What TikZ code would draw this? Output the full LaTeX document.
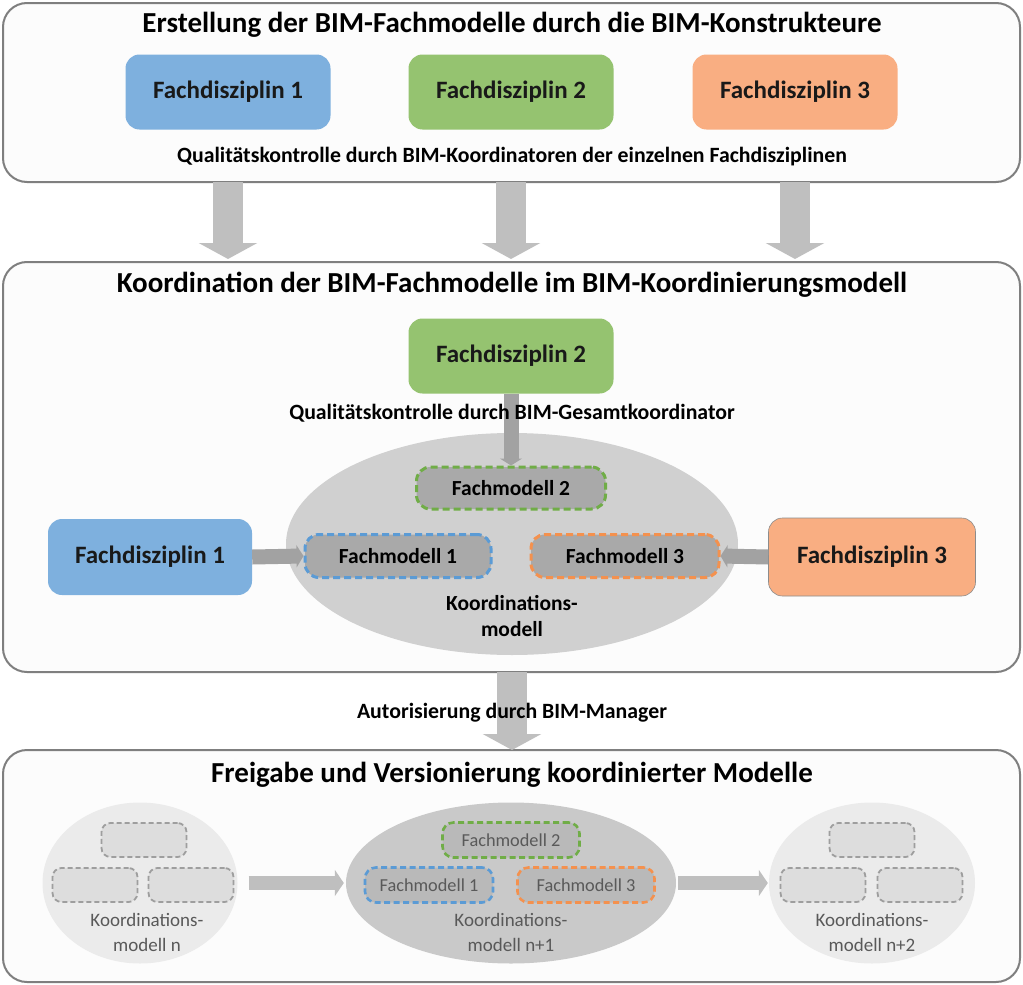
\documentclass[tikz,border=0pt]{standalone}
\usepackage{fontspec}
\setmainfont{Carlito}
\usetikzlibrary{arrows.meta,shapes.geometric}
\definecolor{panelborder}{HTML}{7F7F7F}
\definecolor{panelfill}{HTML}{FCFCFC}
\definecolor{fdblue}{HTML}{7EB0DE}
\definecolor{fdgreen}{HTML}{95C370}
\definecolor{fdorange}{HTML}{F9AE82}
\definecolor{arrowgray}{HTML}{BFBFBF}
\definecolor{ellgray}{HTML}{D0D0D0}
\definecolor{fmgray}{HTML}{A9A9A9}
\definecolor{dblue}{HTML}{5B9BD5}
\definecolor{dgreen}{HTML}{70AD47}
\definecolor{dorange}{HTML}{F4914E}
\definecolor{lightell}{HTML}{EBEBEB}
\definecolor{lightbox}{HTML}{DDDDDD}
\definecolor{midell}{HTML}{C9C9C9}
\definecolor{midbox}{HTML}{B9B9B9}
\definecolor{dimtext}{HTML}{595959}
\tikzset{
  panel/.style={draw=panelborder, line width=2pt, fill=panelfill, rounded corners=24pt},
  title/.style={font=\bfseries\fontsize{29}{32}\selectfont, text=black},
  fdbox/.style={rounded corners=14pt, minimum width=205pt, minimum height=75pt, font=\bfseries\fontsize{25}{28}\selectfont, text=black!90},
  qtext/.style={font=\bfseries\fontsize{21.8}{24}\selectfont, text=black},
  fmbox/.style={rounded corners=14pt, fill=fmgray, line width=3pt, dash pattern=on 7pt off 4pt, font=\bfseries\fontsize{21.5}{24}\selectfont},
  smbox/.style={rounded corners=11pt, line width=2.6pt, dash pattern=on 6pt off 3.5pt, font=\fontsize{18.3}{20}\selectfont, text=dimtext},
  ghostbox/.style={rounded corners=9pt, draw=black!38, fill=lightbox, line width=1.8pt, dash pattern=on 5pt off 3pt, minimum width=85pt, minimum height=34pt},
  bigarrow/.style={draw=arrowgray, line width=30pt, -{Triangle[width=58pt,length=16pt]}},
  smallarrow/.style={draw=arrowgray!85!black, line width=15pt, -{Triangle[width=22pt,length=7pt]}},
  botarrow/.style={draw=arrowgray, line width=14pt, -{Triangle[width=26pt,length=9pt]}},
  ktext/.style={align=center, font=\fontsize{19}{25}\selectfont, text=dimtext},
}
\begin{document}
\begin{tikzpicture}[x=1pt,y=-1pt]
\useasboundingbox (0,0) rectangle (1023,985);
\fill[white] (0,0) rectangle (1023,985);
% panels
\draw[panel] (3,3) rectangle (1020,182);
\draw[panel] (3,262) rectangle (1020,672);
\draw[panel] (3,750) rectangle (1020,982);
\coordinate (p1s) at (512,182);
\coordinate (p2n) at (512,262);
\coordinate (p2s) at (512,672);
\coordinate (p3n) at (512,750);
% panel 1
\node[title] (t1) at (512,25) {Erstellung der BIM-Fachmodelle durch die BIM-Konstrukteure};
\node[fdbox, fill=fdblue] (a1) at (228,92) {Fachdisziplin 1};
\node[fdbox, fill=fdgreen] (a2) at (511,92) {Fachdisziplin 2};
\node[fdbox, fill=fdorange] (a3) at (795,92) {Fachdisziplin 3};
\node[qtext] (q1) at (512,157) {Qualitätskontrolle durch BIM-Koordinatoren der einzelnen Fachdisziplinen};
% arrows 1 -> 2
\draw[bigarrow, shorten >=3pt] (a1 |- p1s) -- (a1 |- p2n);
\draw[bigarrow, shorten >=3pt] (a2 |- p1s) -- (a2 |- p2n);
\draw[bigarrow, shorten >=3pt] (a3 |- p1s) -- (a3 |- p2n);
% panel 2
\node[title] (t2) at (512,285) {Koordination der BIM-Fachmodelle im BIM-Koordinierungsmodell};
\node[fill=ellgray, ellipse, minimum width=452pt, minimum height=222pt, inner sep=0pt] (ell) at (512,544) {};
\node[fdbox, fill=fdgreen] (b2) at (511,356) {Fachdisziplin 2};
\node[fmbox, draw=dgreen, minimum width=189pt, minimum height=42pt] (m2) at (511,488) {Fachmodell 2};
\node[fmbox, draw=dblue, minimum width=186pt, minimum height=43pt] (m1) at (398,556) {Fachmodell 1};
\node[fmbox, draw=dorange, minimum width=188pt, minimum height=43pt] (m3) at (625,556) {Fachmodell 3};
\node[fdbox, fill=fdblue, minimum width=204pt, minimum height=76pt] (b1) at (150,557) {Fachdisziplin 1};
\node[fdbox, fill=fdorange, draw=black!45, line width=0.6pt, minimum width=207pt, minimum height=78pt] (b3) at (872,557) {Fachdisziplin 3};
\draw[smallarrow] (b2.south) -- (m2.north);
\node[qtext] (q2) at (512,413) {Qualitätskontrolle durch BIM-Gesamtkoordinator};
\draw[smallarrow] (b1.east) -- (m1.west);
\draw[smallarrow] (b3.west) -- (m3.east);
\node[align=center, font=\bfseries\fontsize{21.5}{26}\selectfont] (k2) at (512,616) {Koordinations-\\modell};
% arrow 2 -> 3
\draw[bigarrow] (p2s) -- (p3n);
\node[qtext] (q3) at (512,713) {Autorisierung durch BIM-Manager};
% panel 3
\node[title] (t3) at (512,775) {Freigabe und Versionierung koordinierter Modelle};
\node[fill=lightell, ellipse, minimum width=195pt, minimum height=161pt, inner sep=0pt] (e1) at (140,883) {};
\node[fill=midell, ellipse, minimum width=330pt, minimum height=161pt, inner sep=0pt] (e2) at (511,883) {};
\node[fill=lightell, ellipse, minimum width=206pt, minimum height=161pt, inner sep=0pt] (e3) at (872,883) {};
% ghost boxes
\node[ghostbox] (g1) at (144,840) {};
\node[ghostbox] (g2) at (95,885) {};
\node[ghostbox] (g3) at (191,885) {};
\node[ghostbox] (g4) at (872,840) {};
\node[ghostbox] (g5) at (823,885) {};
\node[ghostbox] (g6) at (920,885) {};
\node[ktext] (k1) at (147,932) {Koordinations-\\modell n};
\node[ktext] (k3) at (872,932) {Koordinations-\\modell n+2};
% middle version
\node[smbox, draw=dgreen, fill=midbox, minimum width=137pt, minimum height=35pt] (s2) at (511,840) {Fachmodell 2};
\node[smbox, draw=dblue, fill=midbox, minimum width=128pt, minimum height=35pt] (s1) at (429,885) {Fachmodell 1};
\node[smbox, draw=dorange, fill=midbox, minimum width=137pt, minimum height=35pt] (s3) at (586,885) {Fachmodell 3};
\node[ktext] (k2b) at (511,932) {Koordinations-\\modell n+1};
\draw[botarrow, shorten <=11pt, shorten >=2pt] (e1.east) -- (e2.west);
\draw[botarrow, shorten <=2pt, shorten >=1pt] (e2.east) -- (e3.west);
\end{tikzpicture}
\end{document}
